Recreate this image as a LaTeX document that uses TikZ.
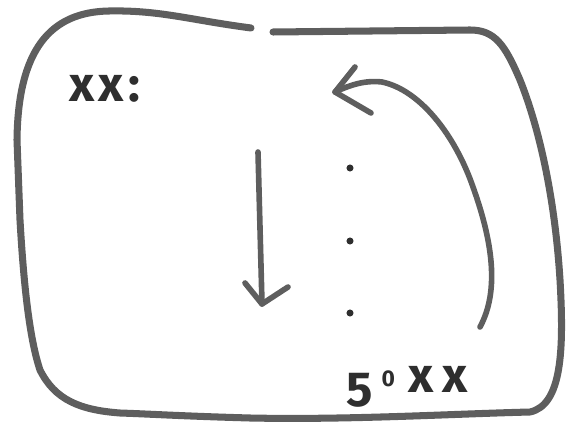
\documentclass[tikz,border=0pt]{standalone}
\usepackage{fontspec}
\setmainfont{Fira Sans}
\definecolor{pen}{HTML}{5E5E5E}
\definecolor{ink}{HTML}{2E2E2E}
\begin{document}
\begin{tikzpicture}[x=0.02cm,y=-0.02cm,
  stroke/.style={draw=pen,line width=4pt,line cap=round,line join=round},
  thin/.style={draw=pen,line width=3.2pt,line cap=round,line join=round},
  hand/.style={text=ink,font=\fontsize{28}{30}\selectfont\bfseries,inner sep=0pt},
  dotmark/.style={circle,fill=ink,minimum size=4pt,inner sep=0pt}]
\useasboundingbox (0,0) rectangle (567,425);
% box with a gap at the top
\draw[stroke] (273,32) -- (470,30) .. controls (495,30) and (505,45) .. (520,80)
  .. controls (540,130) and (555,200) .. (560,280)
  .. controls (564,350) and (562,405) .. (530,412)
  .. controls (450,414) and (350,420) .. (250,418)
  .. controls (180,416) and (150,414) .. (120,413)
  .. controls (80,410) and (55,400) .. (40,370)
  .. controls (30,340) and (24,290) .. (20,220)
  -- (17,140)
  .. controls (18,50) and (50,12) .. (109,11)
  .. controls (160,10) and (190,20) .. (251,28);
% labels
\node[hand,anchor=base west] (lbl) at (69,102) {x\hspace{2pt}x\hspace{3pt}:};
\node[hand,anchor=base west] (end) at (346,392)
  {\raisebox{-8pt}{5}\hspace{5pt}\raisebox{3pt}{\fontsize{13}{14}\selectfont 0}\hspace{8pt}x\hspace{5pt}x};
% dots
\node[dotmark] (d1) at (350,168) {};
\node[dotmark] (d2) at (350,241) {};
\node[dotmark] (d3) at (350,313) {};
% down arrow
\coordinate (a1) at (258,152);
\coordinate (a2) at (262,304);
\draw[thin] (a1) -- (a2);
\draw[thin] (245,283) -- (a2) -- (288,287);
% curved return arrow
\coordinate (c1) at (480,327);
\coordinate (c2) at (335,92);
\draw[thin] (c1) .. controls (500,290) and (492,240) .. (473,187)
  .. controls (455,135) and (420,90) .. (382,82)
  .. controls (365,80) and (350,85) .. (c2);
\draw[thin] (355,67) -- (c2) -- (371,113);
\end{tikzpicture}
\end{document}
